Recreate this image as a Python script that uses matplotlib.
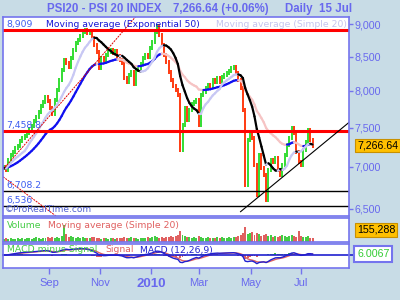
import numpy as np
import pandas as pd
import matplotlib
matplotlib.use("Agg")
import matplotlib.pyplot as plt
import matplotlib.transforms as mtransforms
from matplotlib.collections import LineCollection
from matplotlib.ticker import FixedLocator, NullLocator, FuncFormatter

# every second trading day, 8 Jul 2009 -> 15 Jul 2010
dates = pd.bdate_range("2009-07-08", "2010-07-15")[::2]
close = [
    6990, 6965, 7087, 7150, 7188, 7238, 7263, 7327, 7366, 7392,
    7431, 7484, 7524, 7590, 7643, 7711, 7792, 7847, 7916, 7861,
    7765, 7684, 7875, 8014, 8157, 8301, 8448, 8403, 8344, 8478,
    8598, 8705, 8750, 8812, 8874, 8905, 8859, 8890, 8781, 8674,
    8568, 8330, 8478, 8448, 8523, 8568, 8598, 8553, 8583, 8508,
    8448, 8403, 8186, 8128, 8229, 8272, 8099, 8301, 8330, 8389,
    8478, 8523, 8493, 8628, 8720, 8874, 8968, 8828, 8674, 8523,
    8418, 8272, 8157, 8071, 8014, 7944, 7213, 7537, 7765, 7603,
    7738, 7820, 7847, 7875, 7537, 7944, 7986, 8042, 8085, 8071,
    8157, 8128, 8186, 8128, 8200, 8229, 8258, 8287, 8330, 8344,
    8258, 8157, 8042, 7738, 6782, 7340, 7444, 7366, 7025, 6664,
    7150, 6988, 6903, 6606, 6964, 7087, 7062, 7112, 6964, 6903,
    7025, 7150, 7276, 7366, 7497, 7431, 7188, 7062, 7025, 7213,
    7314, 7471, 7340, 7266.64,
]
volume_k = [
    118, 152, 121, 160, 114, 125, 149, 117, 158, 121,
    150, 162, 119, 148, 190, 153, 121, 160, 147, 198,
    151, 188, 160, 193, 150, 236, 624, 310, 197, 228,
    190, 158, 199, 150, 188, 160, 152, 161, 190, 201,
    150, 158, 121, 149, 161, 118, 153, 157, 112, 160,
    151, 158, 196, 150, 162, 190, 151, 160, 118, 155,
    152, 160, 190, 158, 200, 231, 197, 150, 192, 158,
    201, 188, 236, 190, 240, 270, 429, 268, 238, 190,
    201, 152, 190, 160, 236, 198, 150, 158, 190, 161,
    150, 152, 199, 150, 190, 160, 151, 198, 150, 190,
    201, 236, 275, 351, 546, 312, 348, 390, 270, 352,
    310, 236, 275, 315, 230, 270, 195, 238, 192, 230,
    276, 234, 199, 230, 268, 238, 190, 429, 232, 196,
    190, 236, 160, 155.288,
]
level_red = [8909.0, 7458.8]
level_black = [6708.2, 6536.0]
level_text = ["8,909", "7,458.8", "6,708.2", "6,536"]
# trend lines as (date, price) pairs
trend_red_up = [("2009-07-13", 7025), ("2009-11-25", 8828)]
trend_red_down = [("2009-07-08", 6873), ("2009-09-02", 6469)]
trend_black = [("2010-04-20", 6469), ("2010-07-15", 7180)]
macd_last = 6.0067
month_ticks = ["2009-09-01", "2009-11-01", "2010-01-01", "2010-03-01", "2010-05-01", "2010-07-01"]
month_labels = ["Sep", "Nov", "2010", "Mar", "May", "Jul"]

BG = "#c8dce6"
EDGE = "#7474ee"
TXT = "#6868ee"
GREEN = "#33dd33"
RED = "#ff3a10"

cal = pd.bdate_range("2009-07-08", "2010-09-30")
x = cal.get_indexer(dates).astype(float)
X0, X1 = -0.6, 297.4
c = pd.Series(close, dtype=float)
o = c.shift(1).fillna(c.iloc[0])
up = (c >= o).values

fig = plt.figure(figsize=(4, 3), dpi=100, facecolor=BG)


def panel(x0, y0, x1, y1):
    ax = fig.add_axes([x0 / 400, 1 - y1 / 300, (x1 - x0) / 400, (y1 - y0) / 300])
    ax.set_facecolor("white")
    for s in ax.spines.values():
        s.set_color(EDGE)
        s.set_linewidth(1.2)
    ax.set_xticks([])
    ax.set_yticks([])
    ax.set_xlim(X0, X1)
    return ax


def pos(d):
    return float(cal.searchsorted(pd.Timestamp(d)))


def slope_line(ax, y, c_up, c_dn, lw):
    pts = np.column_stack([x, y])
    segs = np.stack([pts[:-1], pts[1:]], axis=1)
    cols = [c_up if b >= a else c_dn for a, b in zip(y[:-1], y[1:])]
    ax.add_collection(LineCollection(segs, colors=cols, linewidths=lw, capstyle="round"))


# ---- price panel
ax = panel(3, 17, 349, 216)
ax.set_yscale("log")
ax.set_ylim(6420, 9112)
lo = np.minimum(o, c) * 0.996
hi = np.maximum(o, c) * 1.004
ax.vlines(x, lo, hi, colors=np.where(up, GREEN, RED), lw=1.4)

sma = c.rolling(10, min_periods=1).mean().values
ema = c.ewm(span=25, adjust=False).mean().values
slope_line(ax, ema, "#1010f0", "#f6c4c4", 1.6)
slope_line(ax, sma, "#c8c8f4", "black", 1.6)

for v in level_red:
    ax.axhline(v, color="#ff0000", lw=2.2)
for v in level_black:
    ax.axhline(v, color="black", lw=1.0)
tr = mtransforms.blended_transform_factory(ax.transAxes, ax.transData)
for v, t in zip(level_red + level_black, level_text):
    ax.text(0.01, v * 1.002, t, transform=tr, va="bottom", ha="left",
            fontsize=6.7, color="#3c5cf0")

for pts, col in [(trend_red_up, "#e00000"), (trend_red_down, "#e00000")]:
    (d0, p0), (d1, p1) = pts
    ax.axline((pos(d0), p0), (pos(d1), p1), color=col, lw=0.7, ls=(0, (2, 1)))
(d0, p0), (d1, p1) = trend_black
k = (np.log(p1) - np.log(p0)) / (pos(d1) - pos(d0))
ax.plot([pos(d0), X1], [p0, p0 * np.exp(k * (X1 - pos(d0)))], color="black", lw=0.8)

ax.yaxis.tick_right()
ax.yaxis.set_major_locator(FixedLocator([6500, 7000, 7500, 8000, 8500, 9000]))
ax.yaxis.set_minor_locator(NullLocator())
ax.yaxis.set_major_formatter(FuncFormatter(lambda v, p: f"{v:,.0f}"))
ax.tick_params(axis="y", length=3, width=1, color=EDGE, labelcolor=TXT, pad=1,
               labelsize=7.7, labelfontfamily="Liberation Sans")

fig.text(46 / 400, 1 - 24.5 / 300, "Moving average (Exponential 50)", fontsize=6.7,
         color="#1515d5", va="center")
fig.text(216 / 400, 1 - 24.5 / 300, "Moving average (Simple 20)", fontsize=6.7,
         color="#c4c4ee", va="center")
fig.text(5 / 400, 1 - 210 / 300, "\u00a9ProRealTime.com", fontsize=6.5, color="#5060d0",
         va="center")

# ---- volume panel
axv = panel(3, 218, 349, 242)
axv.bar(x, np.array(volume_k) * 1000, width=1.7,
        color=np.where(up, "#44cc44", "#e06060"), linewidth=0)
axv.set_ylim(0, 900000)
fig.text(7 / 400, 1 - 226 / 300, "Volume", fontsize=6.7, color="#44cc44", va="center")
fig.text(48 / 400, 1 - 226 / 300, "Moving average (Simple 20)", fontsize=6.7,
         color="#e06060", va="center")

# ---- MACD panel
axm = panel(3, 244, 349, 268)
macd = (c.ewm(span=6, adjust=False).mean() - c.ewm(span=13, adjust=False).mean()).values
sig = pd.Series(macd).ewm(span=4.5, adjust=False).mean().values
hist = macd - sig
axm.bar(x, hist, width=1.7, color=np.where(hist >= 0, "#44cc44", "#e06060"), linewidth=0)
axm.plot(x, sig, color="#e06060", lw=1.0)
axm.plot(x, macd, color="#2020d0", lw=1.0)
m_lo = min(macd.min(), hist.min()) * 1.5
axm.set_ylim(m_lo, -m_lo * 11 / 13)
axm.plot([X0, X1 + 6 / 1.161], [macd_last, macd_last], color="#2020d0", lw=1.2, clip_on=False)
fig.text(7 / 400, 1 - 250 / 300, "MACD minus Signal", fontsize=6.7, color="#44cc44", va="center")
fig.text(105 / 400, 1 - 250 / 300, "Signal", fontsize=6.7, color="#e06060", va="center")
fig.text(140 / 400, 1 - 250 / 300, "MACD (12,26,9)", fontsize=6.7, color="#2020d0", va="center")

axm.set_xticks([pos(m) for m in month_ticks])
axm.set_xticklabels(month_labels)
axm.tick_params(axis="x", length=4, width=1, color=EDGE, labelcolor=TXT, pad=3,
                labelsize=8, labelfontfamily="Liberation Sans")
for t in axm.get_xticklabels():
    if t.get_text() == "2010":
        t.set_fontweight("bold")
        t.set_fontsize(9.5)

# ---- right value boxes
box_font = dict(family="Liberation Sans", fontsize=7.7, va="center", ha="left")
fig.text(357 / 400, 1 - 145.6 / 300, "7,266.64", color="black",
         bbox=dict(boxstyle="square,pad=0.15", fc="#ffc000", ec="#c89000", lw=0.8), **box_font)
fig.text(357 / 400, 1 - 230 / 300, "155,288", color="black",
         bbox=dict(boxstyle="square,pad=0.15", fc="#ffc000", ec="#c89000", lw=0.8), **box_font)
fig.text(357 / 400, 1 - 254 / 300, "6.0067", color="#33cc33",
         bbox=dict(boxstyle="square,pad=0.25", fc="white", ec=EDGE, lw=1.5), **box_font)

# ---- title
title_font = dict(family="Liberation Sans", fontweight="bold", fontsize=8.3, color=TXT,
                  va="center", ha="left")
fig.text(47 / 400, 1 - 9 / 300, "PSI20 - PSI 20 INDEX", **title_font)
fig.text(173 / 400, 1 - 9 / 300, "7,266.64 (+0.06%)", **title_font)
fig.text(285 / 400, 1 - 9 / 300, "Daily  15 Jul", **title_font)

fig.savefig("out.png", dpi=100, facecolor=BG)
